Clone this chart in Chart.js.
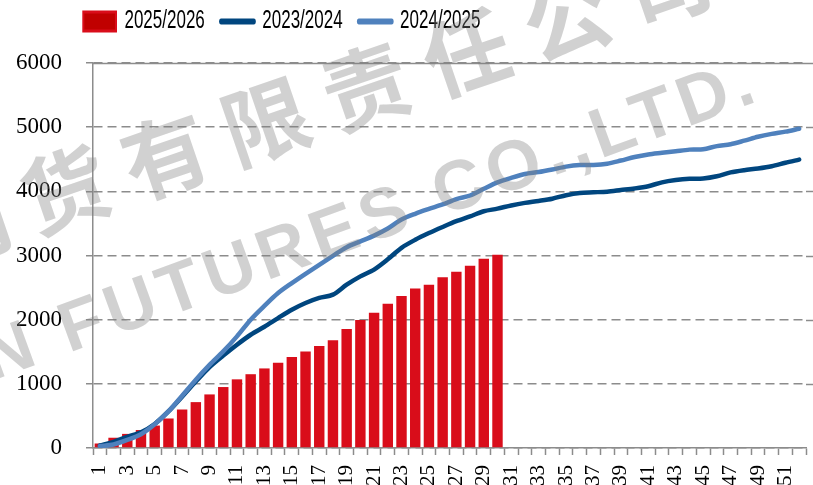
<!DOCTYPE html>
<html>
<head>
<meta charset="utf-8">
<script src="https://cdn.jsdelivr.net/npm/chart.js@4.4.1/dist/chart.umd.min.js"></script>
<style>
  html, body { margin: 0; padding: 0; background: #fff; overflow: hidden; }
  #wrap { width: 813px; height: 498px; position: relative; }
</style>
</head>
<body>
<div id="wrap"><canvas id="mainChart"></canvas></div>
<script>
var weeks = ['1','2','3','4','5','6','7','8','9','10','11','12','13','14','15','16','17','18','19','20',
  '21','22','23','24','25','26','27','28','29','30','31','32','33','34','35','36','37','38','39','40',
  '41','42','43','44','45','46','47','48','49','50','51','52'];

var season2526 = [70, 160, 220, 280, 350, 460, 600, 715, 835, 950,
  1070, 1150, 1240, 1330, 1420, 1505, 1590, 1680, 1855, 1995,
  2108, 2250, 2370, 2485, 2545, 2660, 2745, 2840, 2950, 3010];

var season2324 = [40, 95, 175, 245, 375, 570, 800, 1035, 1260, 1440,
  1610, 1765, 1890, 2025, 2155, 2260, 2340, 2390, 2545, 2675,
  2780, 2940, 3120, 3245, 3350, 3445, 3535, 3610, 3690, 3730,
  3780, 3820, 3850, 3885, 3940, 3975, 3985, 3995, 4020, 4045,
  4080, 4140, 4175, 4195, 4200, 4235, 4295, 4330, 4355, 4390,
  4445, 4495];

var season2425 = [30, 55, 125, 215, 370, 570, 815, 1065, 1295, 1505,
  1740, 2000, 2215, 2415, 2570, 2715, 2855, 2995, 3130, 3220,
  3310, 3420, 3560, 3650, 3725, 3795, 3880, 3935, 4040, 4140,
  4210, 4270, 4300, 4340, 4385, 4410, 4410, 4430, 4480, 4535,
  4575, 4600, 4625, 4650, 4655, 4705, 4735, 4790, 4850, 4895,
  4930, 4975];

var yTicks = [0, 1000, 2000, 3000, 4000, 5000, 6000];

var RED = '#D90D1A',
  NAVY = '#00467F',
  STEEL = '#4F81BD',
  GRID = '#8C8C8C',
  LEGEND_SQUEEZE = 0.68;   // legend font in the original is a very narrow face

// grid lines in the original run past the last category, to the image edge
var edgeLines = {
  id: 'edgeLines',
  beforeDatasetsDraw: function (chart) {
    var ctx = chart.ctx, area = chart.chartArea, y = chart.scales.y;
    ctx.save();
    ctx.strokeStyle = GRID;
    ctx.lineWidth = 1.5;
    ctx.setLineDash([9, 5]);
    yTicks.forEach(function (v) {
      if (v === 0 || v === 6000) return;
      var py = Math.round(y.getPixelForValue(v)) + 0.5;
      ctx.beginPath();
      ctx.moveTo(area.right, py);
      ctx.lineTo(chart.width, py);
      ctx.stroke();
    });
    ctx.setLineDash([]);
    var top = Math.round(y.getPixelForValue(6000)) + 0.5;
    ctx.beginPath();
    ctx.moveTo(area.left, top);
    ctx.lineTo(chart.width, top);
    ctx.stroke();
    ctx.restore();
  }
};

// put the legend where the original has it and squeeze it horizontally
var legendPlacement = {
  id: 'legendPlacement',
  afterLayout: function (chart) {
    var legend = chart.legend;
    legend.left = 67;
    legend.top = -15;
    if (!legend.squeezed) {
      var draw = legend.draw;
      legend.draw = function () {
        var c = this.ctx;
        c.save();
        c.translate(this.left, 0);
        c.scale(LEGEND_SQUEEZE, 1);
        c.translate(-this.left, 0);
        draw.apply(this, arguments);
        c.restore();
      };
      legend.squeezed = true;
    }
  }
};

var watermark = {
  id: 'watermark',
  afterDraw: function (chart) {
    var ctx = chart.ctx;
    ctx.save();
    ctx.fillStyle = 'rgba(128,128,128,0.36)';
    ctx.textAlign = 'center';
    ctx.textBaseline = 'middle';
    ctx.translate(65, 190);
    ctx.rotate(-0.33);
    ctx.font = 'bold 86px "Noto Sans CJK SC"';
    var cn = '期货有限责任公司';
    for (var i = 0; i < cn.length; i++) {
      ctx.fillText(cn[i], (i - 1) * 106, 0);
    }
    ctx.restore();

    ctx.save();
    ctx.fillStyle = 'rgba(128,128,128,0.36)';
    ctx.textAlign = 'right';
    ctx.textBaseline = 'alphabetic';
    ctx.translate(764, 99);
    ctx.rotate(-0.35);
    ctx.font = 'bold 70px "Liberation Sans"';
    ctx.letterSpacing = '6px';
    ctx.fillText('N FUTURES CO.,LTD.', 0, 0);
    ctx.restore();
  }
};

var ctx = document.getElementById('mainChart');

new Chart(ctx, {
  type: 'bar',
  data: {
    labels: weeks,
    datasets: [{
      type: 'bar',
      label: '2025/2026',
      data: season2526,
      backgroundColor: RED,
      barPercentage: 0.76,
      categoryPercentage: 1.0,
      order: 3
    }, {
      type: 'line',
      label: '2023/2024',
      data: season2324,
      borderColor: NAVY,
      backgroundColor: NAVY,
      borderWidth: 4.5,
      pointRadius: 0,
      tension: 0.3,
      borderCapStyle: 'round',
      order: 2
    }, {
      type: 'line',
      label: '2024/2025',
      data: season2425,
      borderColor: STEEL,
      backgroundColor: STEEL,
      borderWidth: 4.5,
      pointRadius: 0,
      tension: 0.3,
      borderCapStyle: 'round',
      order: 1
    }]
  },
  options: {
    responsive: true,
    maintainAspectRatio: false,
    animation: false,
    layout: { padding: { left: 16, right: 7, top: 4, bottom: 2 } },
    plugins: {
      tooltip: { enabled: false },
      legend: {
        position: 'top',
        align: 'start',
        labels: {
          usePointStyle: true,
          pointStyleWidth: 48,
          boxHeight: 19,
          padding: 24,
          color: '#000',
          font: { family: '"Liberation Sans", Arial, sans-serif', size: 25 },
          generateLabels: function (chart) {
            return chart.data.datasets.map(function (ds, i) {
              var isBar = ds.type === 'bar';
              return {
                text: ds.label,
                datasetIndex: i,
                fillStyle: isBar ? '#C00000' : ds.borderColor,
                strokeStyle: isBar ? RED : ds.borderColor,
                lineWidth: isBar ? 3 : 6,
                lineCap: 'round',
                pointStyle: isBar ? 'rect' : 'line',
                fontColor: '#000',
                hidden: false
              };
            });
          }
        }
      }
    },
    scales: {
      x: {
        offset: true,
        afterFit: function (scale) {
          scale.paddingLeft = 0;
          scale.paddingRight = 0;
        },
        grid: {
          offset: true,
          drawOnChartArea: false,
          drawTicks: true,
          tickLength: 7,
          tickColor: GRID,
          tickWidth: 1.5
        },
        border: { display: true, color: GRID, width: 1.5 },
        ticks: {
          autoSkip: false,
          minRotation: 90,
          maxRotation: 90,
          padding: 10,
          color: '#000',
          font: { family: '"Liberation Serif", "Times New Roman", serif', size: 21 },
          callback: function (val, idx) {
            return idx % 2 === 0 ? weeks[idx] : '';
          }
        }
      },
      y: {
        min: 0,
        max: 6000,
        afterBuildTicks: function (scale) {
          scale.ticks = yTicks.map(function (v) { return { value: v }; });
        },
        // chart.js reserves the label padding twice; the original only has it once
        afterFit: function (scale) {
          scale.width -= scale.options.ticks.padding;
        },
        grid: {
          color: GRID,
          lineWidth: 1.5,
          drawTicks: true,
          tickLength: 7,
          tickColor: GRID,
          tickWidth: 1.5,
          tickBorderDash: []
        },
        border: { display: true, color: GRID, width: 1.5, dash: [9, 5] },
        ticks: {
          padding: 24,
          color: '#000',
          font: { family: '"Liberation Serif", "Times New Roman", serif', size: 23 },
          callback: function (val) { return String(val); }
        }
      }
    }
  },
  plugins: [edgeLines, legendPlacement, watermark]
});
</script>
</body>
</html>
